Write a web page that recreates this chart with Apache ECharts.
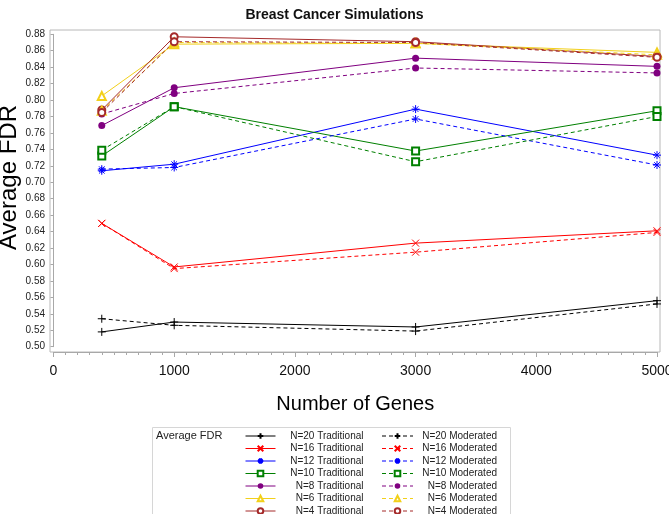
<!DOCTYPE html>
<html>
<head>
<meta charset="utf-8">
<script src="https://cdn.jsdelivr.net/npm/echarts@6/dist/echarts.min.js"></script>
<style>
  html,body{margin:0;padding:0;background:#fff;}
  #chart{width:669px;height:514px;}
</style>
</head>
<body>
<div id="chart"></div>
<script>
// number of genes
const genes = [400, 1000, 3000, 5000];
const yTicks = [0.50, 0.88, 0.02];

// average FDR, traditional
const n20Trad = [0.518, 0.530, 0.524, 0.556];
const n16Trad = [0.650, 0.597, 0.626, 0.641];
const n12Trad = [0.714, 0.722, 0.789, 0.733];
const n10Trad = [0.732, 0.792, 0.738, 0.787];
const n8Trad  = [0.769, 0.815, 0.851, 0.841];
const n6Trad  = [0.805, 0.868, 0.869, 0.858];
const n4Trad  = [0.788, 0.877, 0.871, 0.853];

// average FDR, moderated
const n20Mod = [0.534, 0.526, 0.519, 0.552];
const n16Mod = [0.650, 0.595, 0.615, 0.639];
const n12Mod = [0.716, 0.718, 0.777, 0.721];
const n10Mod = [0.739, 0.792, 0.725, 0.780];
const n8Mod  = [0.783, 0.808, 0.839, 0.833];
const n6Mod  = [0.787, 0.870, 0.869, 0.855];
const n4Mod  = [0.785, 0.871, 0.870, 0.852];

const groups = ['N=20','N=16','N=12','N=10','N=8','N=6','N=4'];
const tradData = [n20Trad,n16Trad,n12Trad,n10Trad,n8Trad,n6Trad,n4Trad];
const modData = [n20Mod,n16Mod,n12Mod,n10Mod,n8Mod,n6Mod,n4Mod];

const colors = ['#000000','#ff0000','#0000ff','#008000','#800080','#f2d01a','#a52a2a'];
const PLUS='path://M0,5L10,5M5,0L5,10';
const CROSS='path://M0,0L10,10M10,0L0,10';
const STAR='path://M0,5L10,5M5,0L5,10M1.5,1.5L8.5,8.5M8.5,1.5L1.5,8.5';
const symbols = [PLUS,CROSS,STAR,'emptyRect','circle','emptyTriangle','emptyCircle'];
const sizes = [8,7,8,7,7,8,7];

const font='"Liberation Sans", Arial, sans-serif';

function makeSeries(name,vals,i,dashed){
    const c=colors[i];
    const filled=symbols[i]==='circle';
    return {
        name:name,
        type:'line',
        xAxisIndex:1,
        yAxisIndex:1,
        data:genes.map((g,k)=>[g,vals[k]]),
        symbol:symbols[i],
        symbolSize:sizes[i],
        showAllSymbol:true,
        lineStyle:{color:c,width:1,type:dashed?[4,3]:'solid'},
        itemStyle:{color:c,borderColor:c,borderWidth:filled?0:1},
        emphasis:{disabled:true},
        animation:false
    };
}

const series=[];
groups.forEach((g,i)=>series.push(makeSeries(g+' Traditional',tradData[i],i,false)));
groups.forEach((g,i)=>series.push(makeSeries(g+' Moderated',modData[i],i,true)));

const legendBase={
    orient:'vertical',
    padding:0,
    itemGap:2.5,
    itemHeight:7,
    height:110,
    lineStyle:{width:1},
    textStyle:{color:'#222',fontFamily:font,fontSize:10},
    inactiveColor:'#222',
    selectedMode:false
};

const chart=echarts.init(document.getElementById('chart'),null,{renderer:'canvas'});
chart.setOption({
    backgroundColor:'#fff',
    animation:false,
    title:[
        {text:'Breast Cancer Simulations',left:'center',top:3,
         textStyle:{fontFamily:font,fontSize:14,fontWeight:'bold',color:'#111'}},
        {text:'Average FDR',left:156,top:430,padding:0,
         textStyle:{fontFamily:font,fontSize:11,fontWeight:'normal',color:'#222'}}
    ],
    graphic:[{
        type:'rect',left:150,top:425,
        shape:{width:358,height:100},
        style:{fill:'none',stroke:'#d6d6d6',lineWidth:1},
        silent:true
    }],
    legend:[
        Object.assign({},legendBase,{
            left:245,top:431,itemWidth:30,
            data:groups.map(g=>g+' Traditional'),
            formatter:n=>'{a|'+n+'}',
            textStyle:Object.assign({},legendBase.textStyle,{rich:{a:{width:83,align:'right',fontFamily:font,fontSize:10,color:'#222'}}})
        }),
        Object.assign({},legendBase,{
            left:381.5,top:431,itemWidth:31,
            data:groups.map(g=>g+' Moderated'),
            formatter:n=>'{a|'+n+'}',
            textStyle:Object.assign({},legendBase.textStyle,{rich:{a:{width:79,align:'right',fontFamily:font,fontSize:10,color:'#222'}}})
        })
    ],
    grid:[
        {left:50,right:9,top:30,bottom:162,show:true,borderColor:'#b8b8b8',borderWidth:1,
         backgroundColor:'transparent',outerBoundsMode:'none'},
        {left:53.5,right:12,top:34.3,bottom:167.3,outerBoundsMode:'none'}
    ],
    xAxis:[
        {gridIndex:0,type:'value',show:false},
        {gridIndex:1,type:'value',min:0,max:5000,interval:1000,offset:5.3,
         name:'Number of Genes',nameLocation:'middle',nameGap:42,nameMoveOverlap:false,
         nameTextStyle:{fontFamily:font,fontSize:20,color:'#000'},
         axisLine:{show:true,lineStyle:{color:'#a8a8a8'}},
         axisTick:{show:true,length:5,lineStyle:{color:'#a8a8a8'}},
         minorTick:{show:true,splitNumber:10,length:3,lineStyle:{color:'#a8a8a8'}},
         axisLabel:{fontFamily:font,fontSize:14,color:'#111',margin:12,hideOverlap:false,
                    formatter:v=>String(v)},
         splitLine:{show:false}}
    ],
    yAxis:[
        {gridIndex:0,type:'value',show:false},
        {gridIndex:1,type:'value',min:yTicks[0],max:yTicks[1],interval:yTicks[2],offset:3.5,
         name:'Average FDR',nameLocation:'middle',nameGap:29,nameMoveOverlap:false,
         nameTextStyle:{fontFamily:font,fontSize:24,color:'#000',padding:[0,0,0,26]},
         axisLine:{show:true,lineStyle:{color:'#a8a8a8'}},
         axisTick:{show:true,length:3,lineStyle:{color:'#a8a8a8'}},
         axisLabel:{fontFamily:font,fontSize:10,color:'#222',margin:5,
                    formatter:v=>v.toFixed(2)},
         splitLine:{show:false}}
    ],
    series:series
});
</script>
</body>
</html>
